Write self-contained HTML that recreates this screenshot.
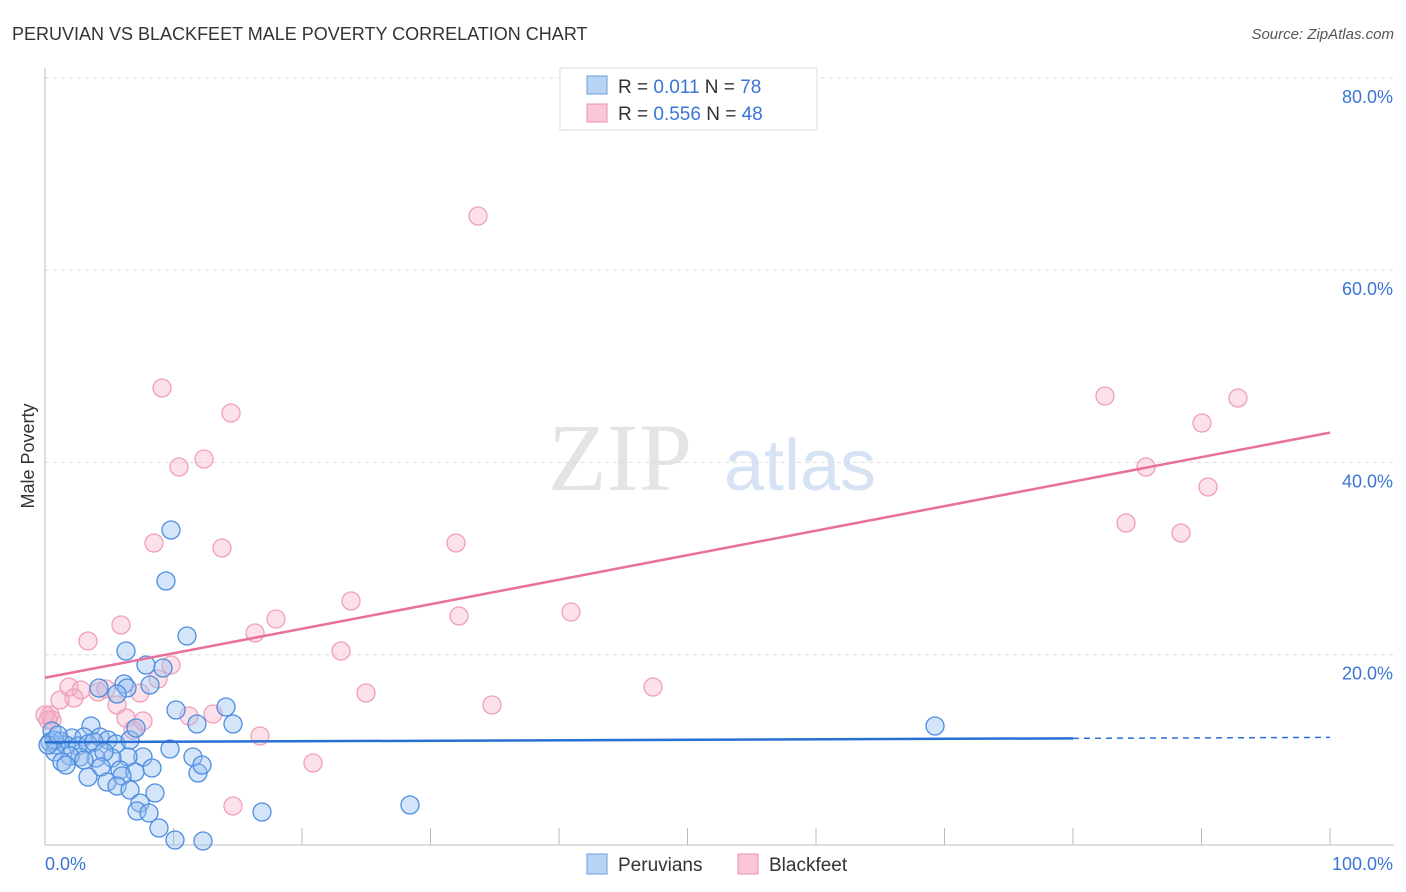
<!DOCTYPE html>
<html><head><meta charset="utf-8"><style>
body{margin:0;background:#fff;font-family:"Liberation Sans",sans-serif}
svg{display:block}
</style></head><body>
<svg id="c" width="1406" height="892">
<text x="12" y="40" font-size="18" fill="#333">PERUVIAN VS BLACKFEET MALE POVERTY CORRELATION CHART</text>
<text x="1394" y="39" font-size="15" fill="#555" font-style="italic" text-anchor="end">Source: ZipAtlas.com</text>
<text x="620" y="490" font-size="96" fill="#e4e4e4" font-family="Liberation Serif,serif" text-anchor="middle">ZIP</text>
<text x="800" y="490" font-size="72" fill="#d6e3f4" text-anchor="middle">atlas</text>
<text transform="translate(34,456) rotate(-90)" font-size="18" fill="#333" text-anchor="middle">Male Poverty</text>
<g id="grid"></g><g id="pts"></g><g id="lines"></g>
<g>
<rect x="560" y="68" width="257" height="62" fill="#fff" stroke="#ddd"/>
<rect x="587" y="76" width="20" height="18" fill="#b9d3f5" stroke="#6d9fe0"/>
<rect x="587" y="104" width="20" height="18" fill="#f9c7d6" stroke="#ee8fab"/>
<text x="618" y="93" font-size="19" fill="#333">R = <tspan fill="#3a75d6">0.011</tspan>   N = <tspan fill="#3a75d6">78</tspan></text>
<text x="618" y="120" font-size="19" fill="#333">R = <tspan fill="#3a75d6">0.556</tspan>   N = <tspan fill="#3a75d6">48</tspan></text>
</g>
<g>
<rect x="587" y="854" width="20" height="20" fill="#b9d3f5" stroke="#6d9fe0"/>
<text x="618" y="871" font-size="19" fill="#333">Peruvians</text>
<rect x="738" y="854" width="20" height="20" fill="#f9c7d6" stroke="#ee8fab"/>
<text x="769" y="871" font-size="19" fill="#333">Blackfeet</text>
</g>
</svg>
<script>
const yTicks=[20,40,60,80];
const xTickLabels=["0.0%","100.0%"];
const bluePts=[[171,530],[166,581],[187,636],[126,651],[146,665],[163,668],[124,684],[150,685],[99,688],[127,688],[117,694],[176,710],[226,707],[197,724],[233,724],[91,726],[52,731],[72,738],[84,737],[100,737],[108,740],[60,741],[50,742],[56,745],[66,745],[78,746],[88,744],[94,742],[116,744],[130,740],[136,728],[170,749],[193,757],[143,757],[128,757],[112,758],[96,758],[80,757],[70,756],[55,752],[62,762],[66,765],[84,760],[104,752],[101,767],[120,770],[135,772],[152,768],[198,773],[202,765],[88,777],[122,776],[107,782],[117,786],[130,790],[155,793],[140,803],[137,811],[149,813],[159,828],[175,840],[203,841],[262,812],[410,805],[935,726],[54,740],[48,745],[58,735]].map(p=>[(p[0]-45)/12.85,(847-p[1])/9.615]);
const pinkPts=[[478,216],[162,388],[231,413],[204,459],[179,467],[154,543],[222,548],[456,543],[351,601],[571,612],[459,616],[276,619],[121,625],[255,633],[88,641],[341,651],[171,665],[158,679],[69,687],[81,690],[98,692],[106,689],[74,698],[60,700],[140,693],[117,705],[366,693],[492,705],[653,687],[189,716],[213,714],[126,718],[143,721],[133,730],[50,715],[52,720],[260,736],[313,763],[233,806],[1105,396],[1238,398],[1202,423],[1146,467],[1208,487],[1126,523],[1181,533],[48,720],[45,715]].map(p=>[(p[0]-45)/12.85,(847-p[1])/9.615]);
const blueTrend=[10.9,11.4];
const pinkTrend=[17.6,43.1];
const X=v=>45+v*12.85, Y=v=>847-v*9.615;
const NS="http://www.w3.org/2000/svg";
function mk(tag,at,parent){const e=document.createElementNS(NS,tag);for(const k in at)e.setAttribute(k,at[k]);parent.appendChild(e);return e;}
const g=document.getElementById('grid');
yTicks.forEach(t=>{
 const l=mk('line',{x1:45,x2:1394,y1:Y(t),y2:Y(t),stroke:'#ddd','stroke-dasharray':'4 4'},g);
 
 
 const tx=mk('text',{x:1393,y:Y(t)+25,'font-size':18,fill:'#3a75d6','text-anchor':'end'},g);tx.textContent=t.toFixed(1)+'%';
 
 
});
const ax=mk('line',{x1:45,x2:1394,y1:845,y2:845,stroke:'#bbb'},g);


const ay=mk('line',{x1:45,x2:45,y1:68,y2:845,stroke:'#bbb'},g);


for(let i=1;i<=10;i++){const t=mk('line',{x1:X(i*10),x2:X(i*10),y1:828,y2:845,stroke:'#bbb'},g);
 
 }
const l0=mk('text',{x:45,y:870,'font-size':18,fill:'#3a75d6'},g);l0.textContent=xTickLabels[0];


const l1=mk('text',{x:1393,y:870,'font-size':18,fill:'#3a75d6','text-anchor':'end'},g);l1.textContent=xTickLabels[1];


const pg=document.getElementById('pts');
pinkPts.forEach(p=>{const c=mk('circle',{cx:X(p[0]),cy:Y(p[1]),r:9,fill:'rgba(246,170,195,0.35)',stroke:'#f0a0b8','stroke-width':1.3},pg);
 
 });
bluePts.forEach(p=>{const c=mk('circle',{cx:X(p[0]),cy:Y(p[1]),r:9,fill:'rgba(150,190,240,0.4)',stroke:'#4d8ee0','stroke-width':1.3},pg);
 
 });
const lg=document.getElementById('lines');
const bY=x=>blueTrend[0]+(blueTrend[1]-blueTrend[0])*x/100;
const b1=mk('line',{x1:X(0),y1:Y(bY(0)),x2:X(80),y2:Y(bY(80)),stroke:'#2a6fd6','stroke-width':2.5},lg);


const b2=mk('line',{x1:X(80),y1:Y(bY(80)),x2:X(100),y2:Y(bY(100)),stroke:'#2a6fd6','stroke-width':1.5,'stroke-dasharray':'6 5'},lg);


const p1=mk('line',{x1:X(0),y1:Y(pinkTrend[0]),x2:X(100),y2:Y(pinkTrend[1]),stroke:'#e8709a','stroke-width':2.5},lg);


</script>
</body></html>
